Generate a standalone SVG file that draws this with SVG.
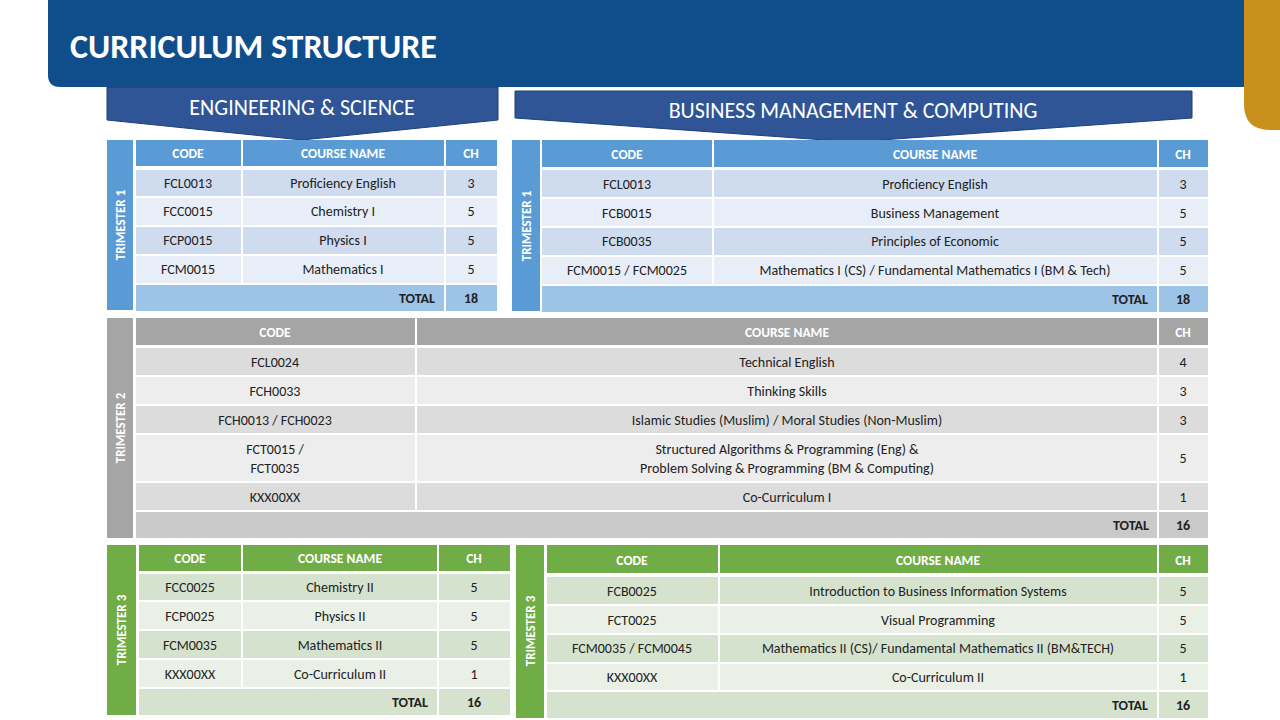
<svg xmlns="http://www.w3.org/2000/svg" width="1280" height="720" viewBox="0 0 1280 720">
<style>
text{font-family:"Carlito","Liberation Sans",sans-serif;text-anchor:middle}
.t{font-size:14px;fill:#222}
.h{font-size:13.5px;font-weight:bold;fill:#fff}
.tt{font-size:14px;font-weight:bold;fill:#222}
.s{font-size:13px;font-weight:bold;fill:#fff}
.bh{fill:#5B9BD5}.b1{fill:#CFDBEE}.b2{fill:#E8EEF7}.bt{fill:#9DC3E6}
.gh{fill:#A5A5A5}.g1{fill:#DCDCDC}.g2{fill:#EDEDED}.gt{fill:#C9C9C9}
.nh{fill:#70AD47}.n1{fill:#D5E3CE}.n2{fill:#EAF0E6}.nt{fill:#D5E3CE}
</style>
<rect width="1280" height="720" fill="#fff"/>
<g id="title">
<path d="M48 0H1262V87H60Q48 87 48 75Z" fill="#104E8B"/>
<path d="M1244 0H1280V130H1270Q1244 130 1244 104Z" fill="#C8901A"/>
<text x="70" y="58" style="font-size:34px;font-weight:bold;fill:#fff;text-anchor:start">CURRICULUM STRUCTURE</text>
</g>
<g id="banner-eng">
<path d="M107 87H498V120L302 140L107 120Z" fill="#2F5597" stroke="#1F3F77"/>
<text x="302" y="115" style="font-size:22px;fill:#fff">ENGINEERING &amp; SCIENCE</text>
</g>
<g id="banner-bm">
<path d="M515 91H1192V118L853 142L515 118Z" fill="#2F5597" stroke="#1F3F77"/>
<text x="853" y="118" style="font-size:22px;fill:#fff">BUSINESS MANAGEMENT &amp; COMPUTING</text>
</g>

<g id="t1-eng">
<rect x="107" y="140" width="26" height="170" class="bh"/>
<text transform="translate(125 225) rotate(-90)" class="s">TRIMESTER 1</text>
<rect x="136" y="140" width="105" height="26" class="bh"/><rect x="243" y="140" width="201" height="26" class="bh"/><rect x="446" y="140" width="51" height="26" class="bh"/>
<text x="188" y="158" class="h">CODE</text><text x="343" y="158" class="h">COURSE NAME</text><text x="471" y="158" class="h">CH</text>
<rect x="136" y="170" width="105" height="26" class="b1"/><rect x="243" y="170" width="201" height="26" class="b1"/><rect x="446" y="170" width="51" height="26" class="b1"/>
<text x="188" y="188" class="t">FCL0013</text><text x="343" y="188" class="t">Proficiency English</text><text x="471" y="188" class="t">3</text>
<rect x="136" y="198" width="105" height="27" class="b2"/><rect x="243" y="198" width="201" height="27" class="b2"/><rect x="446" y="198" width="51" height="27" class="b2"/>
<text x="188" y="216" class="t">FCC0015</text><text x="343" y="216" class="t">Chemistry I</text><text x="471" y="216" class="t">5</text>
<rect x="136" y="227" width="105" height="27" class="b1"/><rect x="243" y="227" width="201" height="27" class="b1"/><rect x="446" y="227" width="51" height="27" class="b1"/>
<text x="188" y="245" class="t">FCP0015</text><text x="343" y="245" class="t">Physics I</text><text x="471" y="245" class="t">5</text>
<rect x="136" y="256" width="105" height="27" class="b2"/><rect x="243" y="256" width="201" height="27" class="b2"/><rect x="446" y="256" width="51" height="27" class="b2"/>
<text x="188" y="274" class="t">FCM0015</text><text x="343" y="274" class="t">Mathematics I</text><text x="471" y="274" class="t">5</text>
<rect x="136" y="285" width="308" height="26" class="bt"/><rect x="446" y="285" width="51" height="26" class="bt"/>
<text x="435" y="303" class="tt" style="text-anchor:end">TOTAL</text><text x="471" y="303" class="tt">18</text>
</g>

<g id="t1-bm">
<rect x="512" y="140" width="28" height="171" class="bh"/>
<text transform="translate(531 226) rotate(-90)" class="s">TRIMESTER 1</text>
<rect x="542" y="140" width="170" height="27" class="bh"/><rect x="714" y="140" width="443" height="27" class="bh"/><rect x="1159" y="140" width="49" height="27" class="bh"/>
<text x="627" y="159" class="h">CODE</text><text x="935" y="159" class="h">COURSE NAME</text><text x="1183" y="159" class="h">CH</text>
<rect x="542" y="170" width="170" height="27" class="b1"/><rect x="714" y="170" width="443" height="27" class="b1"/><rect x="1159" y="170" width="49" height="27" class="b1"/>
<text x="627" y="189" class="t">FCL0013</text><text x="935" y="189" class="t">Proficiency English</text><text x="1183" y="189" class="t">3</text>
<rect x="542" y="199" width="170" height="27" class="b2"/><rect x="714" y="199" width="443" height="27" class="b2"/><rect x="1159" y="199" width="49" height="27" class="b2"/>
<text x="627" y="218" class="t">FCB0015</text><text x="935" y="218" class="t">Business Management</text><text x="1183" y="218" class="t">5</text>
<rect x="542" y="228" width="170" height="27" class="b1"/><rect x="714" y="228" width="443" height="27" class="b1"/><rect x="1159" y="228" width="49" height="27" class="b1"/>
<text x="627" y="246" class="t">FCB0035</text><text x="935" y="246" class="t">Principles of Economic</text><text x="1183" y="246" class="t">5</text>
<rect x="542" y="257" width="170" height="27" class="b2"/><rect x="714" y="257" width="443" height="27" class="b2"/><rect x="1159" y="257" width="49" height="27" class="b2"/>
<text x="627" y="275" class="t">FCM0015 / FCM0025</text><text x="935" y="275" class="t">Mathematics I (CS) / Fundamental Mathematics I (BM &amp; Tech)</text><text x="1183" y="275" class="t">5</text>
<rect x="542" y="286" width="615" height="26" class="bt"/><rect x="1159" y="286" width="49" height="26" class="bt"/>
<text x="1148" y="304" class="tt" style="text-anchor:end">TOTAL</text><text x="1183" y="304" class="tt">18</text>
</g>

<g id="t2">
<rect x="107" y="318" width="26" height="220" class="gh"/>
<text transform="translate(125 428) rotate(-90)" class="s">TRIMESTER 2</text>
<rect x="136" y="318" width="279" height="27" class="gh"/><rect x="417" y="318" width="740" height="27" class="gh"/><rect x="1159" y="318" width="49" height="27" class="gh"/>
<text x="275" y="337" class="h">CODE</text><text x="787" y="337" class="h">COURSE NAME</text><text x="1183" y="337" class="h">CH</text>
<rect x="136" y="348" width="279" height="27" class="g1"/><rect x="417" y="348" width="740" height="27" class="g1"/><rect x="1159" y="348" width="49" height="27" class="g1"/>
<text x="275" y="367" class="t">FCL0024</text><text x="787" y="367" class="t">Technical English</text><text x="1183" y="367" class="t">4</text>
<rect x="136" y="377" width="279" height="27" class="g2"/><rect x="417" y="377" width="740" height="27" class="g2"/><rect x="1159" y="377" width="49" height="27" class="g2"/>
<text x="275" y="396" class="t">FCH0033</text><text x="787" y="396" class="t">Thinking Skills</text><text x="1183" y="396" class="t">3</text>
<rect x="136" y="406" width="279" height="27" class="g1"/><rect x="417" y="406" width="740" height="27" class="g1"/><rect x="1159" y="406" width="49" height="27" class="g1"/>
<text x="275" y="425" class="t">FCH0013 / FCH0023</text><text x="787" y="425" class="t">Islamic Studies (Muslim) / Moral Studies (Non-Muslim)</text><text x="1183" y="425" class="t">3</text>
<rect x="136" y="435" width="279" height="46" class="g2"/><rect x="417" y="435" width="740" height="46" class="g2"/><rect x="1159" y="435" width="49" height="46" class="g2"/>
<text x="275" y="454" class="t">FCT0015 /</text><text x="275" y="473" class="t">FCT0035</text>
<text x="787" y="454" class="t">Structured Algorithms &amp; Programming  (Eng) &amp;</text><text x="787" y="473" class="t">Problem Solving &amp; Programming (BM &amp; Computing)</text><text x="1183" y="463" class="t">5</text>
<rect x="136" y="483" width="279" height="27" class="g1"/><rect x="417" y="483" width="740" height="27" class="g1"/><rect x="1159" y="483" width="49" height="27" class="g1"/>
<text x="275" y="502" class="t">KXX00XX</text><text x="787" y="502" class="t">Co-Curriculum I</text><text x="1183" y="502" class="t">1</text>
<rect x="136" y="512" width="1021" height="26" class="gt"/><rect x="1159" y="512" width="49" height="26" class="gt"/>
<text x="1149" y="530" class="tt" style="text-anchor:end">TOTAL</text><text x="1183" y="530" class="tt">16</text>
</g>

<g id="t3-eng">
<rect x="107" y="545" width="29" height="170" class="nh"/>
<text transform="translate(126 630) rotate(-90)" class="s">TRIMESTER 3</text>
<rect x="139" y="545" width="102" height="26" class="nh"/><rect x="243" y="545" width="194" height="26" class="nh"/><rect x="439" y="545" width="71" height="26" class="nh"/>
<text x="190" y="563" class="h">CODE</text><text x="340" y="563" class="h">COURSE NAME</text><text x="474" y="563" class="h">CH</text>
<rect x="139" y="574" width="102" height="26" class="n1"/><rect x="243" y="574" width="194" height="26" class="n1"/><rect x="439" y="574" width="71" height="26" class="n1"/>
<text x="190" y="592" class="t">FCC0025</text><text x="340" y="592" class="t">Chemistry II</text><text x="474" y="592" class="t">5</text>
<rect x="139" y="602" width="102" height="27" class="n2"/><rect x="243" y="602" width="194" height="27" class="n2"/><rect x="439" y="602" width="71" height="27" class="n2"/>
<text x="190" y="621" class="t">FCP0025</text><text x="340" y="621" class="t">Physics II</text><text x="474" y="621" class="t">5</text>
<rect x="139" y="631" width="102" height="27" class="n1"/><rect x="243" y="631" width="194" height="27" class="n1"/><rect x="439" y="631" width="71" height="27" class="n1"/>
<text x="190" y="650" class="t">FCM0035</text><text x="340" y="650" class="t">Mathematics II</text><text x="474" y="650" class="t">5</text>
<rect x="139" y="660" width="102" height="27" class="n2"/><rect x="243" y="660" width="194" height="27" class="n2"/><rect x="439" y="660" width="71" height="27" class="n2"/>
<text x="190" y="679" class="t">KXX00XX</text><text x="340" y="679" class="t">Co-Curriculum II</text><text x="474" y="679" class="t">1</text>
<rect x="139" y="689" width="298" height="26" class="nt"/><rect x="439" y="689" width="71" height="26" class="nt"/>
<text x="428" y="707" class="tt" style="text-anchor:end">TOTAL</text><text x="474" y="707" class="tt">16</text>
</g>

<g id="t3-bm">
<rect x="516" y="545" width="28" height="173" class="nh"/>
<text transform="translate(535 631) rotate(-90)" class="s">TRIMESTER 3</text>
<rect x="547" y="545" width="171" height="28" class="nh"/><rect x="720" y="545" width="437" height="28" class="nh"/><rect x="1159" y="545" width="49" height="28" class="nh"/>
<text x="632" y="565" class="h">CODE</text><text x="938" y="565" class="h">COURSE NAME</text><text x="1183" y="565" class="h">CH</text>
<rect x="547" y="577" width="171" height="27" class="n1"/><rect x="720" y="577" width="437" height="27" class="n1"/><rect x="1159" y="577" width="49" height="27" class="n1"/>
<text x="632" y="596" class="t">FCB0025</text><text x="938" y="596" class="t">Introduction to Business Information Systems</text><text x="1183" y="596" class="t">5</text>
<rect x="547" y="606" width="171" height="27" class="n2"/><rect x="720" y="606" width="437" height="27" class="n2"/><rect x="1159" y="606" width="49" height="27" class="n2"/>
<text x="632" y="625" class="t">FCT0025</text><text x="938" y="625" class="t">Visual Programming</text><text x="1183" y="625" class="t">5</text>
<rect x="547" y="635" width="171" height="27" class="n1"/><rect x="720" y="635" width="437" height="27" class="n1"/><rect x="1159" y="635" width="49" height="27" class="n1"/>
<text x="632" y="653" class="t">FCM0035 / FCM0045</text><text x="938" y="653" class="t">Mathematics II (CS)/ Fundamental Mathematics II (BM&amp;TECH)</text><text x="1183" y="653" class="t">5</text>
<rect x="547" y="664" width="171" height="26" class="n2"/><rect x="720" y="664" width="437" height="26" class="n2"/><rect x="1159" y="664" width="49" height="26" class="n2"/>
<text x="632" y="682" class="t">KXX00XX</text><text x="938" y="682" class="t">Co-Curriculum II</text><text x="1183" y="682" class="t">1</text>
<rect x="547" y="692" width="610" height="26" class="nt"/><rect x="1159" y="692" width="49" height="26" class="nt"/>
<text x="1148" y="710" class="tt" style="text-anchor:end">TOTAL</text><text x="1183" y="710" class="tt">16</text>
</g>
<g id="connectors"/>
</svg>
